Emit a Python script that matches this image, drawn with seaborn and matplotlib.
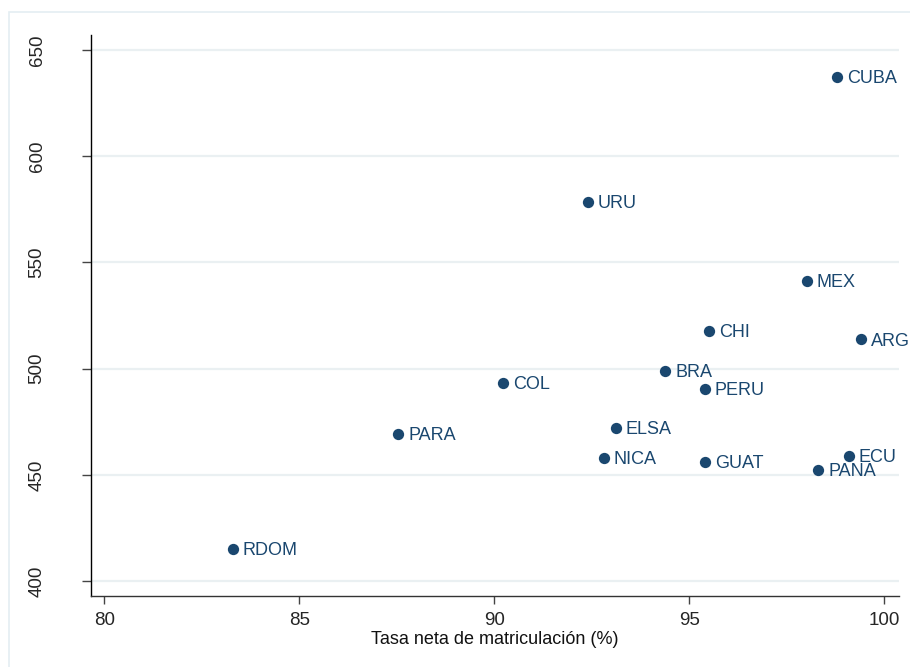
import matplotlib
matplotlib.use("Agg")
import matplotlib.pyplot as plt
from matplotlib.patches import Rectangle
import seaborn as sns
import pandas as pd

countries = ["CUBA", "URU", "MEX", "CHI", "ARG", "BRA", "COL", "PERU",
             "PARA", "ELSA", "NICA", "GUAT", "ECU", "PANA", "RDOM"]
enrollment = [98.79, 92.40, 98.01, 95.51, 99.40, 94.39, 90.22, 95.40,
              87.53, 93.11, 92.81, 95.40, 99.09, 98.31, 83.29]
score = [637.4, 578.4, 541.2, 517.7, 513.8, 499.0, 493.1, 490.4,
         469.2, 472.2, 457.8, 455.9, 459.0, 452.2, 415.2]
x_ticks = [80, 85, 90, 95, 100]
y_ticks = [400, 450, 500, 550, 600, 650]
x_title = "Tasa neta de matriculación (%)"

df = pd.DataFrame({"pais": countries, "x": enrollment, "y": score})

sns.set_style("white")
plt.rcParams['font.family'] = ['Liberation Sans', 'DejaVu Sans']

W, H = 910, 667
fig = plt.figure(figsize=(W / 100, H / 100), dpi=100)
ax = fig.add_axes([90.7 / W, 1 - 595.7 / H, (899 - 90.7) / W, (595.7 - 35) / H])

navy = "#1a476f"
grid_c = "#eaf0f2"

# outer frame
fig.patches.append(Rectangle((9 / W, -0.1), 1.2, 1 - 12 / H + 0.1,
                             transform=fig.transFigure, fill=False,
                             edgecolor="#e4eef2", linewidth=1.2, zorder=0))

sns.scatterplot(data=df, x="x", y="y", ax=ax, color=navy, s=66,
                edgecolor=navy, linewidth=0, zorder=3, legend=False)

for _, r in df.iterrows():
    ax.annotate(r["pais"], (r["x"], r["y"]), xytext=(7.3, -1.2),
                textcoords="offset points", va="center", ha="left",
                fontsize=13, color=navy, zorder=4)

ax.set_xlim(79.65, 100.38)
ax.set_ylim(393.1, 657.1)
ax.set_xticks(x_ticks)
ax.set_yticks(y_ticks)
ax.set_xticklabels([str(v) for v in x_ticks])
ax.set_yticklabels([str(v) for v in y_ticks], rotation=90, va="center")

for v in y_ticks:
    ax.axhline(v, color=grid_c, linewidth=1.6, zorder=1)

for s in ["top", "right"]:
    ax.spines[s].set_visible(False)
ax.spines["left"].set_color("black")
ax.spines["left"].set_linewidth(1.0)
ax.spines["bottom"].set_color("#333333")
ax.spines["bottom"].set_linewidth(1.0)

ax.tick_params(axis="y", direction="out", length=6.5, width=1.0,
               color="#444444", labelsize=13.5, pad=26, left=True)
ax.tick_params(axis="x", direction="out", length=5.5, width=1.0,
               color="#444444", labelsize=13.5, pad=6, bottom=True)

ax.set_xlabel(x_title, fontsize=13, labelpad=1.5, color="#111111")
ax.set_ylabel("")
ax.grid(False)

fig.savefig("out.png", dpi=100, facecolor="white")
